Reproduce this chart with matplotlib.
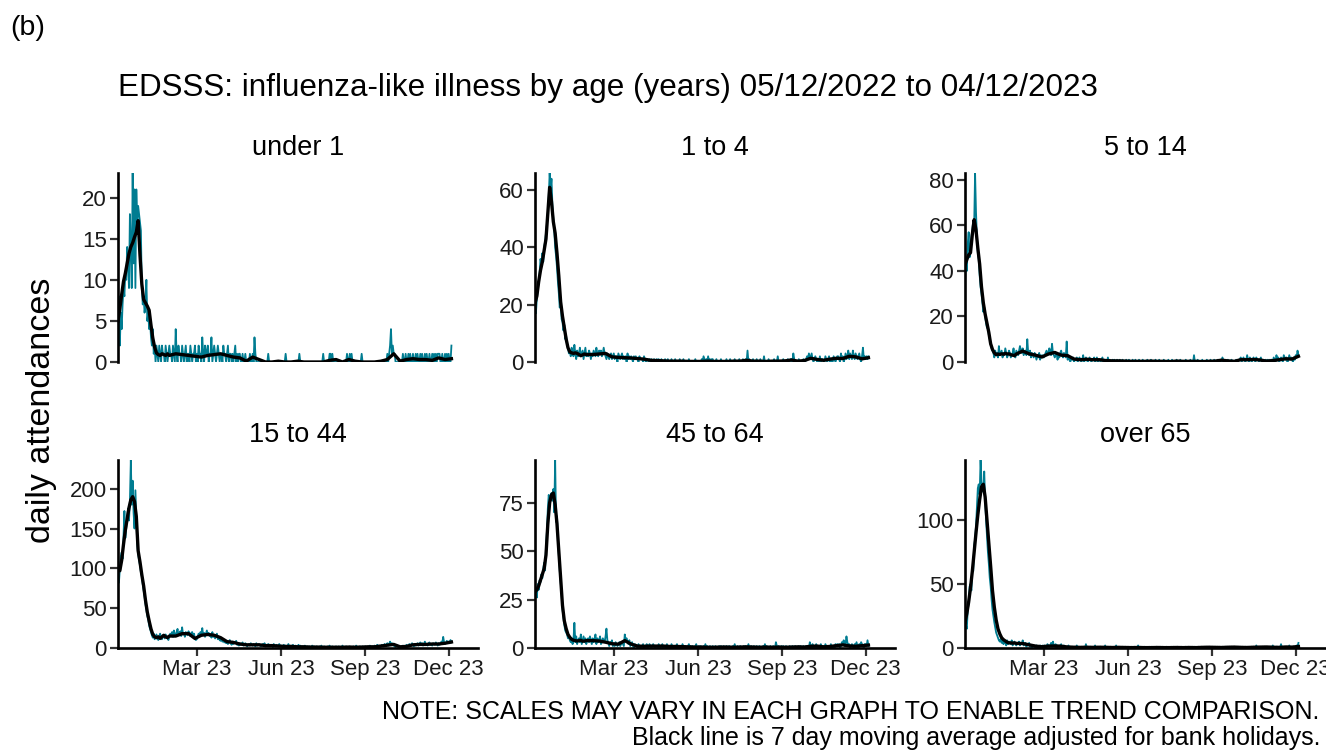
import pandas as pd
import matplotlib.pyplot as plt
import matplotlib.dates as mdates
from matplotlib.ticker import MultipleLocator

plt.rcParams["font.family"] = "Liberation Sans"

# =========================
# DATA (daily counts from 05/12/2022, one value per day)
# =========================
start_date = "2022-12-05"

under1_daily = [
    5, 8, 2, 6, 4, 7, 9, 8, 11, 10, 14, 12, 9, 18, 14, 9, 23, 12, 21, 9, 21, 17, 19, 18, 17, 16, 9,  # dec
    7, 8, 6, 7, 10, 5, 6, 4, 5, 3, 2, 4, 1, 2, 0, 2, 1, 0, 2, 1, 0, 2, 1, 1, 0, 2, 1, 0, 1, 2, 1,  # jan
    1, 0, 2, 1, 0, 4, 1, 0, 2, 1, 1, 0, 2, 1, 0, 1, 2, 0, 1, 1, 0, 2, 1, 0, 1, 1, 2, 0,  # feb
    1, 0, 2, 1, 1, 0, 3, 1, 0, 2, 1, 1, 2, 0, 1, 1, 3, 0, 1, 2, 1, 0, 1, 2, 1, 0, 1, 1, 0, 2, 1,  # mar
    1, 0, 1, 2, 0, 1, 1, 0, 1, 0, 1, 2, 0, 1, 0, 1, 1, 0, 0, 1, 0, 0, 1, 0, 0, 0, 0, 1, 0, 0,  # apr
    1, 0, 3, 1, 0, 0, 0, 0, 0, 0, 0, 0, 0, 0, 0, 0, 0, 1, 0, 0, 0, 0, 0, 0, 0, 0, 0, 0, 0, 0, 0,  # may
    0, 0, 0, 0, 0, 1, 0, 0, 0, 0, 0, 0, 0, 0, 0, 0, 0, 0, 0, 0, 1, 0, 0, 0, 0, 0, 0, 0, 0, 0,  # jun
    0, 0, 0, 0, 0, 0, 0, 0, 0, 0, 0, 0, 0, 0, 0, 0, 1, 0, 0, 0, 0, 0, 0, 1, 1, 0, 1, 0, 0, 0, 0,  # jul
    0, 0, 0, 0, 0, 0, 0, 0, 0, 0, 0, 1, 0, 0, 1, 0, 1, 0, 0, 0, 0, 0, 0, 0, 0, 0, 0, 1, 0, 0, 0,  # aug
    0, 0, 0, 0, 0, 0, 0, 0, 0, 0, 0, 0, 0, 0, 0, 0, 0, 0, 0, 0, 0, 0, 0, 0, 1, 0, 1, 2, 4, 1,  # sep
    2, 1, 1, 0, 0, 0, 0, 0, 0, 0, 0, 1, 0, 0, 1, 0, 0, 1, 0, 1, 0, 0, 1, 0, 0, 1, 0, 1, 0, 0, 1,  # oct
    0, 1, 0, 0, 1, 0, 1, 0, 0, 1, 0, 0, 1, 0, 1, 0, 1, 0, 1, 1, 1, 0, 0, 1, 0, 0, 1, 0, 1, 0,  # nov
    1, 0, 0, 2,  # dec
]

age1to4_daily = [
    20, 17, 22, 25, 28, 31, 36, 34, 38, 35, 40, 42, 45, 48, 52, 58, 66, 60, 64, 55, 50, 46, 40, 37, 33, 28, 24,
    19, 22, 15, 14, 11, 13, 8, 9, 6, 5, 3, 4, 2, 5, 3, 2, 6, 3, 1, 4, 2, 3, 5, 2, 3, 4, 1, 3, 5, 2, 3,
    2, 4, 3, 1, 3, 2, 4, 3, 2, 5, 3, 2, 4, 3, 4, 2, 3, 5, 3, 2, 1, 3, 2, 1, 2, 3, 1, 2,
    3, 1, 2, 2, 0, 3, 2, 1, 2, 3, 1, 2, 1, 2, 0, 3, 1, 2, 1, 2, 1, 0, 2, 1, 2, 1, 1, 0, 2, 1, 1,
    1, 0, 2, 1, 0, 1, 1, 0, 1, 0, 1, 0, 0, 1, 0, 0, 1, 0, 1, 0, 0, 1, 0, 0, 0, 1, 0, 0, 1, 0,
    0, 0, 1, 0, 0, 0, 1, 0, 0, 0, 0, 1, 0, 0, 0, 1, 0, 0, 0, 0, 0, 1, 0, 0, 0, 0, 0, 0, 1, 0, 0,
    0, 0, 0, 0, 1, 0, 2, 1, 0, 1, 0, 2, 0, 1, 0, 1, 1, 0, 0, 0, 1, 0, 0, 0, 0, 1, 0, 0, 0, 0,
    0, 1, 0, 0, 0, 1, 0, 0, 0, 0, 1, 0, 0, 0, 0, 1, 0, 0, 0, 1, 0, 0, 1, 0, 4, 0, 1, 0, 0, 0, 1,
    0, 0, 0, 1, 0, 0, 0, 1, 0, 0, 0, 2, 0, 0, 0, 0, 1, 0, 0, 0, 0, 0, 1, 0, 0, 0, 2, 0, 0, 0, 0,
    0, 1, 0, 0, 0, 0, 1, 0, 0, 1, 1, 0, 3, 1, 0, 0, 0, 0, 1, 0, 0, 0, 0, 1, 0, 0, 1, 2, 1, 3,
    2, 1, 3, 1, 0, 1, 2, 1, 0, 1, 0, 2, 0, 1, 1, 0, 0, 2, 1, 0, 1, 2, 0, 1, 0, 0, 2, 1, 0, 1, 2,
    2, 1, 0, 3, 1, 2, 0, 1, 3, 1, 2, 4, 1, 3, 2, 1, 4, 2, 1, 3, 2, 1, 2, 3, 1, 0, 2, 5, 1, 2,
    1, 2, 1, 2,
]

age5to14_daily = [
    35, 45, 40, 52, 57, 46, 50, 55, 58, 62, 60, 83, 66, 55, 48, 45, 38, 33, 30, 26, 22, 24, 20, 17, 15, 16, 12,
    10, 8, 6, 5, 4, 2, 5, 3, 4, 2, 7, 3, 4, 5, 2, 4, 3, 6, 4, 2, 3, 5, 4, 2, 3, 4, 6, 3, 2, 5, 4,
    3, 5, 7, 5, 4, 6, 3, 4, 5, 3, 10, 4, 3, 5, 2, 4, 3, 2, 4, 3, 1, 3, 2, 4, 1, 3, 2, 3,
    2, 3, 4, 5, 3, 4, 6, 5, 3, 8, 4, 3, 2, 3, 4, 1, 3, 2, 4, 5, 3, 2, 4, 3, 2, 9, 1, 2, 1, 0, 2,
    1, 2, 0, 1, 1, 2, 0, 1, 2, 1, 0, 1, 3, 0, 1, 2, 1, 0, 1, 2, 1, 0, 1, 1, 2, 0, 1, 2, 0, 1,
    1, 0, 1, 2, 0, 1, 0, 1, 0, 2, 0, 1, 0, 0, 1, 0, 1, 0, 0, 1, 0, 0, 1, 0, 0, 1, 0, 0, 0, 1, 0,
    0, 1, 0, 0, 0, 1, 0, 0, 1, 0, 0, 0, 1, 0, 0, 0, 1, 0, 0, 0, 0, 1, 0, 0, 0, 1, 0, 0, 0, 0,
    1, 0, 0, 0, 1, 0, 0, 0, 0, 1, 0, 0, 0, 0, 1, 0, 0, 0, 1, 0, 0, 0, 0, 1, 0, 0, 0, 1, 0, 0, 0,
    0, 0, 1, 0, 0, 0, 0, 1, 0, 0, 0, 3, 0, 0, 0, 1, 0, 0, 0, 0, 1, 0, 0, 0, 0, 1, 0, 0, 0, 1, 0,
    0, 0, 1, 0, 0, 0, 1, 0, 0, 1, 0, 2, 1, 0, 0, 0, 0, 1, 0, 0, 0, 1, 0, 0, 0, 0, 1, 0, 0, 1,
    1, 2, 0, 1, 2, 1, 0, 1, 3, 1, 0, 2, 1, 0, 1, 2, 1, 0, 2, 1, 1, 0, 1, 2, 0, 1, 0, 0, 1, 0, 1,
    0, 1, 0, 1, 1, 0, 2, 1, 0, 3, 1, 2, 0, 1, 2, 1, 0, 3, 2, 1, 2, 0, 1, 3, 1, 2, 1, 0, 2, 1,
    3, 2, 5, 3,
]

age15to44_daily = [
    105, 82, 98, 115, 120, 112, 140, 172, 138, 150, 165, 175, 160, 185, 236, 180, 210, 170, 150, 198,
    165, 130, 118, 110, 104, 95, 90,
    80, 72, 65, 55, 48, 40, 36, 28, 24, 20, 16, 13, 18, 11, 14, 17, 12, 10, 15, 18, 13, 11, 16, 14, 12,
    17, 15, 13, 10, 14, 18,
    16, 20, 14, 22, 17, 15, 20, 24, 16, 18, 21, 15, 26, 17, 19, 14, 20, 18, 16, 21, 17, 15, 19, 20, 14,
    18, 12, 10,
    11, 14, 18, 15, 20, 17, 25, 16, 19, 14, 18, 22, 16, 19, 15, 17, 13, 20, 14, 16, 12, 15, 18, 11, 13,
    10, 9, 12, 8, 10, 7,
    9, 6, 8, 5, 7, 10, 6, 4, 8, 5, 7, 6, 9, 4, 5, 3, 6, 4, 5, 7, 3, 4, 6, 5, 2, 4, 5, 3, 6, 4,
    3, 5, 4, 2, 6, 3, 4, 5, 3, 2, 4, 5, 3, 6, 2, 4, 3, 5, 4, 2, 3, 4, 1, 5, 3, 2, 4, 3, 2, 5, 3,
    2, 3, 1, 4, 2, 3, 1, 2, 5, 2, 1, 3, 2, 4, 1, 2, 3, 2, 1, 4, 2, 3, 1, 2, 2, 1, 3, 2, 0, 2,
    1, 2, 0, 1, 3, 1, 2, 0, 1, 2, 1, 0, 2, 1, 3, 1, 0, 2, 1, 1, 0, 2, 1, 3, 0, 1, 2, 1, 0, 1, 2,
    1, 0, 2, 1, 1, 0, 3, 1, 0, 1, 2, 1, 0, 1, 2, 0, 1, 1, 2, 0, 1, 3, 1, 0, 1, 2, 1, 0, 2, 1, 1,
    2, 1, 0, 2, 1, 3, 2, 1, 2, 0, 3, 1, 2, 4, 2, 3, 1, 2, 4, 3, 2, 5, 3, 4, 6, 3, 5, 8, 4, 6,
    5, 3, 2, 1, 2, 3, 1, 2, 0, 2, 1, 3, 2, 1, 2, 4, 3, 2, 5, 4, 3, 6, 4, 2, 5, 3, 4, 6, 3, 5, 7,
    4, 6, 3, 5, 8, 4, 5, 3, 6, 7, 4, 5, 3, 6, 5, 4, 7, 5, 3, 6, 4, 5, 8, 6, 14, 7, 5, 6, 9, 6,
    8, 6, 10, 7,
]

age45to64_daily = [
    31, 28, 26, 33, 30, 35, 34, 38, 36, 41, 44, 40, 52, 60, 72, 79, 74, 78, 80, 76, 82, 70, 97, 65, 68, 55, 48,
    40, 34, 28, 20, 16, 12, 9, 8, 7, 5, 6, 4, 3, 5, 2, 4, 13, 3, 6, 2, 4, 5, 3, 7, 2, 4, 6, 3, 5, 2, 4,
    5, 3, 6, 4, 2, 5, 3, 4, 7, 2, 5, 3, 4, 6, 2, 3, 5, 4, 3, 6, 10, 4, 3, 1, 3, 2, 4, 1,
    2, 1, 3, 2, 1, 2, 3, 1, 2, 3, 2, 1, 7, 4, 5, 3, 2, 4, 1, 2, 3, 1, 0, 2, 1, 1, 0, 2, 1, 0, 1,
    1, 2, 0, 1, 1, 2, 0, 1, 2, 1, 0, 1, 2, 1, 0, 1, 1, 0, 2, 1, 0, 1, 2, 0, 1, 1, 0, 2, 1, 0,
    1, 0, 2, 1, 0, 1, 0, 1, 2, 0, 1, 0, 1, 0, 2, 1, 0, 1, 0, 0, 1, 2, 0, 1, 0, 1, 0, 0, 1, 2, 0,
    0, 1, 0, 1, 0, 0, 1, 0, 2, 0, 1, 0, 0, 1, 0, 0, 1, 0, 0, 1, 0, 0, 0, 1, 0, 1, 0, 0, 1, 0,
    0, 1, 0, 0, 1, 0, 0, 0, 1, 0, 2, 0, 0, 1, 0, 0, 1, 0, 0, 0, 1, 0, 1, 0, 0, 2, 0, 0, 1, 0, 0,
    1, 0, 0, 1, 0, 0, 1, 0, 0, 0, 1, 0, 2, 0, 1, 0, 0, 0, 1, 0, 0, 1, 0, 0, 3, 1, 0, 1, 0, 0, 1,
    0, 1, 0, 0, 1, 0, 0, 0, 1, 0, 0, 1, 0, 0, 1, 0, 0, 0, 1, 0, 1, 0, 0, 1, 0, 0, 1, 0, 1, 0,
    3, 1, 0, 2, 1, 0, 1, 2, 0, 1, 1, 0, 2, 1, 0, 1, 0, 2, 1, 0, 1, 1, 0, 2, 0, 1, 1, 0, 2, 1, 2,
    1, 2, 0, 1, 3, 2, 4, 1, 2, 6, 3, 1, 2, 0, 1, 2, 1, 0, 2, 1, 3, 1, 0, 2, 1, 3, 2, 1, 0, 2,
    2, 1, 4, 1,
]

over65_daily = [
    25, 18, 15, 30, 35, 48, 50, 45, 62, 60, 80, 85, 95, 110, 125, 128, 120, 147, 130, 125, 122, 138,
    115, 100, 88, 75, 66,
    55, 48, 38, 30, 25, 20, 16, 12, 10, 8, 6, 5, 7, 4, 6, 3, 5, 4, 2, 6, 3, 5, 4, 3, 6, 2, 4, 5, 3, 2, 4,
    3, 5, 2, 4, 3, 6, 2, 3, 4, 1, 3, 2, 4, 1, 2, 0, 1, 2, 1, 0, 2, 1, 0, 1, 2, 0, 1, 2,
    1, 2, 0, 1, 3, 2, 1, 2, 4, 1, 5, 2, 1, 3, 0, 2, 1, 2, 1, 3, 0, 1, 2, 0, 1, 0, 1, 2, 0, 1, 0,
    1, 0, 0, 1, 0, 2, 0, 1, 0, 0, 1, 0, 1, 0, 0, 3, 0, 1, 0, 0, 1, 0, 0, 1, 0, 2, 0, 0, 1, 0,
    0, 1, 0, 0, 1, 0, 2, 0, 0, 1, 0, 0, 1, 0, 0, 0, 1, 0, 2, 0, 0, 1, 0, 0, 0, 1, 0, 0, 1, 0, 0,
    1, 0, 0, 0, 1, 0, 0, 1, 0, 0, 0, 2, 0, 0, 1, 0, 0, 0, 1, 0, 0, 0, 0, 1, 0, 0, 1, 0, 0, 0,
    0, 1, 0, 0, 0, 1, 0, 0, 1, 0, 0, 0, 1, 0, 0, 0, 0, 1, 0, 0, 1, 0, 0, 0, 1, 0, 0, 0, 1, 0, 0,
    0, 0, 1, 0, 0, 1, 0, 0, 0, 1, 0, 0, 1, 0, 0, 0, 1, 0, 0, 1, 0, 0, 0, 1, 0, 1, 0, 0, 1, 0, 0,
    1, 0, 0, 1, 0, 0, 1, 0, 1, 0, 0, 1, 0, 0, 1, 0, 1, 0, 0, 1, 0, 1, 0, 0, 1, 0, 0, 1, 0, 1,
    0, 1, 0, 1, 0, 0, 1, 0, 1, 0, 1, 0, 0, 1, 0, 1, 0, 0, 2, 0, 1, 0, 1, 0, 0, 1, 0, 1, 0, 0, 1,
    0, 1, 0, 1, 0, 2, 0, 1, 0, 1, 1, 0, 1, 0, 3, 0, 1, 0, 1, 0, 1, 1, 0, 2, 0, 1, 0, 1, 1, 0,
    1, 2, 1, 4,
]

# 7 day moving average, read at these day offsets from the start date
ma_days = [0, 2, 4, 6, 8, 10, 12, 14, 16, 18, 20, 22, 24, 26, 28, 30, 32, 34, 36, 38,
           40, 42, 44, 46, 48, 50, 52, 54, 56,
           63, 70, 77, 84, 91, 98, 105, 112, 119, 126, 133, 140, 147, 154, 161, 168, 175,
           182, 189, 196, 203, 210, 217, 224, 231, 238, 245, 252, 259, 266, 273, 280, 287,
           294, 301, 308, 315, 322, 329, 336, 343, 350, 357, 364]

under1_ma = [5.0, 6.5, 8.2, 9.8, 10.8, 12.0, 13.2, 14.0, 14.5, 15.2, 15.8, 17.2, 13.0, 9.5, 7.6,
             7.2, 6.8, 6.3, 4.5, 2.9, 1.8, 1.1, 0.9, 0.8, 1.0, 0.9, 0.8, 1.0, 0.8,
             1.0, 0.9, 0.8, 0.7, 0.6, 0.8, 0.9, 1.0, 0.8, 0.6, 0.5, 0.1, 0.6, 0.3, 0.0,
             0.0, 0.1, 0.0, 0.0, 0.1, 0.0, 0.0, 0.0, 0.0, 0.2, 0.3, 0.0, 0.3, 0.1, 0.0,
             0.0, 0.0, 0.1, 0.3, 1.0, 0.1, 0.3, 0.4, 0.3, 0.3, 0.2, 0.5, 0.3, 0.4]
age1to4_ma = [20.5, 23, 28, 32, 35, 39, 43, 52, 61, 56, 49, 45, 38, 30, 21,
              16, 12, 8, 5, 3.5, 3.2, 3.0, 3.2, 3.0, 2.6, 2.2, 2.5, 2.8, 2.6,
              2.6, 2.8, 3.0, 1.8, 1.6, 1.5, 1.4, 1.2, 1.0, 0.6, 0.5, 0.4, 0.3, 0.3, 0.3,
              0.2, 0.2, 0.2, 0.3, 0.2, 0.2, 0.2, 0.3, 0.3, 0.6, 0.3, 0.3, 0.2, 0.3, 0.3,
              0.4, 0.7, 0.3, 0.5, 1.3, 0.9, 0.6, 1.0, 1.3, 1.2, 2.0, 1.8, 1.1, 1.5]
age5to14_ma = [42.6, 45, 47, 48, 56, 62.5, 58, 50, 43, 33, 26, 21, 17, 13, 8,
               5.5, 4, 3.2, 3.5, 3.3, 3.6, 3.4, 3.8, 3.5, 3.6, 3.2, 3.0, 2.8, 3.5,
               4.8, 3.6, 3.0, 2.2, 3.5, 4.2, 3.0, 2.8, 1.3, 1.0, 1.2, 1.0, 1.0, 0.6, 0.5,
               0.5, 0.4, 0.3, 0.3, 0.3, 0.4, 0.3, 0.3, 0.2, 0.4, 0.3, 0.3, 0.3, 0.2, 0.3,
               0.4, 0.8, 0.5, 0.3, 1.0, 1.0, 1.1, 0.9, 0.4, 0.6, 1.0, 1.4, 1.3, 2.5]
age15to44_ma = [100, 97, 110, 130, 148, 162, 176, 186, 190, 184, 165, 122, 108, 92, 78,
                60, 45, 34, 24, 17, 14, 13, 14, 12, 14, 16, 14, 13, 15,
                15, 18, 18, 12, 16, 17, 16, 13, 8, 7, 5, 4, 4, 4, 3,
                3, 2.5, 2, 2, 1.5, 1.5, 1.2, 1.2, 1.0, 1.0, 1.0, 1.0, 1.2, 1.0, 1.2,
                1.5, 1.5, 2.5, 3.5, 4.5, 1.5, 2.0, 4.0, 4.5, 4.5, 5.0, 5.0, 6.0, 7.5]
age45to64_ma = [29, 30, 32, 35, 38, 41, 48, 64, 75, 79, 80, 74, 64, 50, 36,
                22, 14, 10, 7, 5.5, 4.5, 4.0, 3.8, 3.6, 3.8, 4.0, 3.5, 3.6, 3.8,
                3.8, 3.6, 3.0, 2.2, 2.0, 3.8, 2.0, 1.0, 0.9, 1.0, 1.0, 1.0, 0.8, 0.8, 0.7,
                0.6, 0.5, 0.5, 0.4, 0.4, 0.5, 0.5, 0.4, 0.5, 0.6, 0.5, 0.4, 0.5, 0.4, 0.5,
                0.4, 0.5, 0.6, 0.5, 0.9, 1.0, 0.6, 0.8, 1.2, 1.6, 1.1, 0.9, 1.2, 1.5]
over65_ma = [20, 27, 36, 47, 60, 75, 90, 104, 116, 126, 128, 118, 100, 82, 64,
             45, 32, 22, 15, 11, 8, 6.5, 5.5, 4.5, 4.0, 4.0, 3.8, 4.0, 3.6,
             3.5, 2.5, 1.5, 1.0, 1.5, 1.6, 1.4, 0.8, 0.6, 0.5, 0.6, 0.5, 0.6, 0.5, 0.4,
             0.5, 0.4, 0.3, 0.4, 0.3, 0.3, 0.4, 0.3, 0.3, 0.4, 0.3, 0.4, 0.3, 0.5, 0.6,
             0.5, 0.4, 0.6, 0.7, 0.5, 0.4, 0.6, 0.7, 0.8, 0.6, 0.5, 0.8, 0.7, 1.2]

panel_names = ["under 1", "1 to 4", "5 to 14", "15 to 44", "45 to 64", "over 65"]
panel_daily = [under1_daily, age1to4_daily, age5to14_daily,
               age15to44_daily, age45to64_daily, over65_daily]
panel_ma = [under1_ma, age1to4_ma, age5to14_ma, age15to44_ma, age45to64_ma, over65_ma]
ytick_steps = [5, 20, 20, 50, 25, 50]

# =========================
# FIGURE
# =========================
W, H = 1326, 752
TEAL = "#007C91"
fig = plt.figure(figsize=(W / 100, H / 100), dpi=100)

col_left = [118, 535, 965]
row_top = [173, 460]
row_bottom = [362, 648]
panel_w = 360

start = pd.Timestamp(start_date)
x_end = pd.Timestamp("2024-01-02")

for i, name in enumerate(panel_names):
    r, c = divmod(i, 3)
    ax = fig.add_axes([col_left[c] / W, 1 - row_bottom[r] / H,
                       panel_w / W, (row_bottom[r] - row_top[r]) / H])
    daily = panel_daily[i]
    dates = pd.date_range(start, periods=len(daily), freq="D")
    ma_dates = start + pd.to_timedelta(ma_days, unit="D")

    ax.plot(dates, daily, color=TEAL, lw=1.3)
    ax.plot(ma_dates, panel_ma[i], color="black", lw=2.4)

    ax.set_xlim(start, x_end)
    ax.set_ylim(0, max(daily))
    ax.yaxis.set_major_locator(MultipleLocator(ytick_steps[i]))

    for s in ["top", "right"]:
        ax.spines[s].set_visible(False)
    ax.spines["left"].set_linewidth(1.9)
    ax.spines["bottom"].set_linewidth(1.9)
    ax.tick_params(axis="both", length=5.5, width=1.6, color="#333333",
                   labelsize=16, labelcolor="#1a1a1a", pad=2.5)

    if r == 0:
        ax.spines["bottom"].set_visible(False)
        ax.tick_params(axis="x", bottom=False, labelbottom=False)
    else:
        ax.xaxis.set_major_locator(mdates.MonthLocator(bymonth=[3, 6, 9, 12]))
        ax.xaxis.set_major_formatter(mdates.DateFormatter("%b %y"))

    fig.text((col_left[c] + panel_w / 2) / W, 1 - (row_top[r] - 25) / H, name,
             ha="center", va="center", fontsize=19.5)

# =========================
# TEXTS
# =========================
fig.text(10 / W, 1 - 28 / H, "(b)", ha="left", va="center", fontsize=20.5)
fig.text(118 / W, 1 - 88 / H,
         "EDSSS: influenza-like illness by age (years) 05/12/2022 to 04/12/2023",
         ha="left", va="center", fontsize=22.6)
fig.text(42 / W, 1 - 410 / H, "daily attendances", rotation=90,
         ha="center", va="center", fontsize=24.5)
fig.text(1319 / W, 1 - 712 / H,
         "NOTE: SCALES MAY VARY IN EACH GRAPH TO ENABLE TREND COMPARISON.",
         ha="right", va="center", fontsize=18)
fig.text(1321 / W, 1 - 738 / H,
         "Black line is 7 day moving average adjusted for bank holidays.",
         ha="right", va="center", fontsize=18)

plt.savefig("out.png", dpi=100)
plt.close()
